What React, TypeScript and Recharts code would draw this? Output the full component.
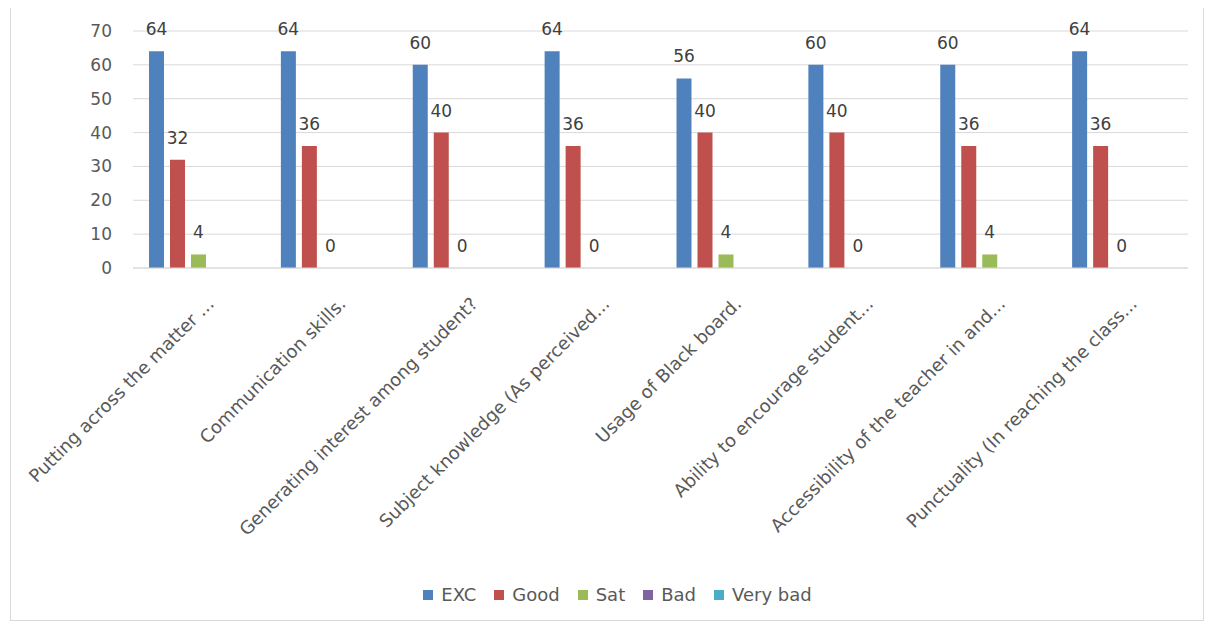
import React from "react";
import { BarChart, Bar, XAxis, YAxis, CartesianGrid, Legend, LabelList } from "recharts";

const categories = [
  "Putting across the matter ...",
  "Communication skills.",
  "Generating interest among student?",
  "Subject knowledge (As perceived...",
  "Usage of Black board.",
  "Ability to encourage student...",
  "Accessibility of the teacher in and...",
  "Punctuality (In reaching the class...",
];
const excValues = [64, 64, 60, 64, 56, 60, 60, 64];
const goodValues = [32, 36, 40, 36, 40, 40, 36, 36];
const satValues = [4, 0, 0, 0, 4, 0, 4, 0];
const badValues: (number | null)[] = [null, null, null, null, null, null, null, null];
const veryBadValues: (number | null)[] = [null, null, null, null, null, null, null, null];
const yTicks = [0, 10, 20, 30, 40, 50, 60, 70];
const seriesNames = ["EXC", "Good", "Sat", "Bad", "Very bad"];
const seriesColors = ["#4F81BD", "#C0504D", "#9BBB59", "#8064A2", "#4BACC6"];

const data = categories.map((name, i) => ({
  name,
  EXC: excValues[i],
  Good: goodValues[i],
  Sat: satValues[i],
  Bad: badValues[i],
  "Very bad": veryBadValues[i],
}));

const FONT = "'DejaVu Sans', sans-serif";
const TEXT = "#595959";

const XTick = (props: any) => {
  const { x, y, payload } = props;
  const ax = x + 16;
  const ay = y + 29;
  return (
    <text
      x={ax}
      y={ay}
      transform={`rotate(-45, ${ax}, ${ay})`}
      textAnchor="end"
      fontSize={18}
      fontFamily={FONT}
      fill={TEXT}
    >
      {payload.value}
    </text>
  );
};

const labelStyle = { fontSize: 17, fontFamily: FONT, fill: "#404040" };

const renderLabel = (props: any) => {
  const { x, y, width, value } = props;
  if (value === null || value === undefined) return null;
  return (
    <text x={x + width / 2} y={y - 16} textAnchor="middle" style={labelStyle}>
      {value}
    </text>
  );
};

const LegendContent = () => (
  <div
    style={{
      display: "flex",
      justifyContent: "center",
      alignItems: "center",
      fontFamily: FONT,
      fontSize: 18,
      color: TEXT,
      paddingRight: 46,
    }}
  >
    {seriesNames.map((n, i) => (
      <div key={n} style={{ display: "flex", alignItems: "center", marginRight: i < seriesNames.length - 1 ? 18 : 0 }}>
        <span style={{ display: "inline-block", width: 10, height: 10, background: seriesColors[i], marginRight: 8 }} />
        <span>{n}</span>
      </div>
    ))}
  </div>
);

export default function App() {
  return (
    <div style={{ position: "relative", width: 1214, height: 629, margin: -8, background: "#fff" }}>
      <div
        style={{
          position: "absolute",
          left: 10,
          top: 5,
          width: 1194,
          height: 616,
          border: "1px solid #d9d9d9",
          boxSizing: "border-box",
        }}
      />
      <BarChart
        width={1214}
        height={629}
        data={data}
        margin={{ top: 31, right: 26, left: 93, bottom: 161 }}
        barGap={6}
        barCategoryGap={16}
        style={{ position: "absolute", left: 0, top: 0 }}
      >
        <CartesianGrid vertical={false} stroke="#d9d9d9" />
        <XAxis
          dataKey="name"
          interval={0}
          height={200}
          tick={<XTick />}
          tickLine={false}
          axisLine={{ stroke: "#d9d9d9" }}
        />
        <YAxis
          width={40}
          domain={[0, 70]}
          ticks={yTicks}
          axisLine={false}
          tickLine={false}
          tickSize={0}
          tickMargin={21}
          tick={{ fontSize: 17, fontFamily: FONT, fill: TEXT }}
        />
        <Legend
          verticalAlign="bottom"
          align="center"
          content={<LegendContent />}
          wrapperStyle={{ top: 584, bottom: "auto", height: 0 }}
        />
        <Bar dataKey="EXC" fill={seriesColors[0]} isAnimationActive={false}>
          <LabelList dataKey="EXC" content={renderLabel} />
        </Bar>
        <Bar dataKey="Good" fill={seriesColors[1]} isAnimationActive={false}>
          <LabelList dataKey="Good" content={renderLabel} />
        </Bar>
        <Bar
          dataKey="Sat"
          fill={seriesColors[2]}
          isAnimationActive={false}
          minPointSize={(v: any) => (v === 0 ? 0.01 : 0)}
        >
          <LabelList dataKey="Sat" content={renderLabel} />
        </Bar>
        <Bar dataKey="Bad" fill={seriesColors[3]} isAnimationActive={false} />
        <Bar dataKey="Very bad" fill={seriesColors[4]} isAnimationActive={false} />
      </BarChart>
    </div>
  );
}
